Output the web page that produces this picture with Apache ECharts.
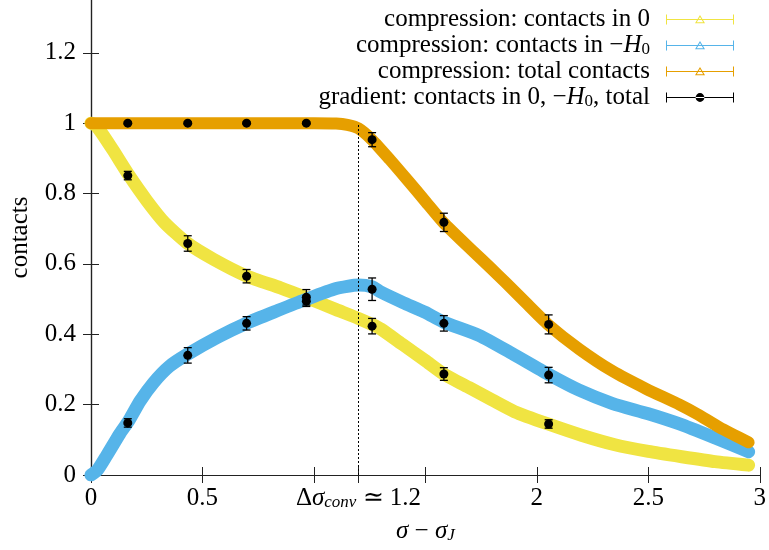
<!DOCTYPE html>
<html><head><meta charset="utf-8">
<script src="https://cdn.jsdelivr.net/npm/echarts@6/dist/echarts.min.js"></script>
<style>html,body{margin:0;padding:0;background:#fff}#c{width:769px;height:550px}</style>
</head><body><div id="c"></div>
<script>
// ---- compression: contacts in 0 (yellow)
const zeroX = [0, 0.02, 0.05, 0.1, 0.17, 0.25, 0.33, 0.43, 0.55, 0.7, 0.85, 0.97, 1.1, 1.2, 1.26, 1.3, 1.4, 1.5, 1.58, 1.7, 1.8, 1.9, 2.05, 2.2, 2.35, 2.5, 2.65, 2.8, 2.95];
const zeroY = [1.0, 0.995, 0.97, 0.922, 0.852, 0.78, 0.717, 0.66, 0.613, 0.565, 0.532, 0.503, 0.47, 0.445, 0.428, 0.415, 0.37, 0.325, 0.288, 0.247, 0.213, 0.18, 0.145, 0.113, 0.086, 0.067, 0.052, 0.038, 0.028];
// ---- compression: contacts in -H0 (blue)
const hX = [0, 0.03, 0.07, 0.13, 0.17, 0.22, 0.28, 0.35, 0.43, 0.57, 0.7, 0.84, 0.96, 1.1, 1.2, 1.26, 1.3, 1.4, 1.5, 1.58, 1.74, 1.89, 2.05, 2.19, 2.34, 2.5, 2.64, 2.8, 2.95];
const hY = [0, 0.015, 0.055, 0.118, 0.155, 0.21, 0.262, 0.308, 0.342, 0.392, 0.432, 0.468, 0.498, 0.53, 0.54, 0.535, 0.52, 0.49, 0.462, 0.435, 0.397, 0.345, 0.287, 0.241, 0.203, 0.174, 0.145, 0.105, 0.066];
// ---- compression: total contacts (orange)
const totX = [0, 1.0, 1.1, 1.15, 1.2, 1.26, 1.34, 1.42, 1.5, 1.58, 1.71, 1.79, 1.86, 1.95, 2.05, 2.19, 2.34, 2.49, 2.64, 2.72, 2.82, 2.95];
const totY = [1.0, 1.0, 0.999, 0.995, 0.985, 0.953, 0.897, 0.838, 0.778, 0.718, 0.638, 0.59, 0.547, 0.49, 0.428, 0.358, 0.295, 0.245, 0.2, 0.173, 0.135, 0.093];
// ---- gradient points (black)
const gradX = [0.165, 0.434, 0.698, 0.966, 1.261, 1.583, 2.053];
const grad0 = [0.851, 0.658, 0.565, 0.494, 0.423, 0.287, 0.145];
const grad0Err = [0.012, 0.022, 0.019, 0.015, 0.022, 0.018, 0.012];
const gradH = [0.148, 0.34, 0.431, 0.505, 0.528, 0.431, 0.284];
const gradHErr = [0.012, 0.022, 0.019, 0.022, 0.032, 0.022, 0.022];
const gradT = [1.0, 1.0, 1.0, 1.0, 0.953, 0.718, 0.428];
const gradTErr = [0.003, 0.003, 0.003, 0.003, 0.02, 0.026, 0.027];
// ---- axis ticks
const xTicks = [0, 0.5, 1, 1.2, 1.5, 2, 2.5, 3];
const xLabels = [0, 0.5, 1.2, 2, 2.5, 3];
const yTicks = [0, 0.2, 0.4, 0.6, 0.8, 1, 1.2];
const convX = 1.2;

const FONT = 'Liberation Serif';
const FS = 25;
const zip = (a, b) => a.map((v, i) => [v, b[i]]);
const gradData = [];
gradX.forEach((x, i) => {
  gradData.push([x, grad0[i], grad0Err[i]]);
  gradData.push([x, gradH[i], gradHErr[i]]);
  gradData.push([x, gradT[i], gradTErr[i]]);
});

const rich = {
  t: {fontFamily: FONT, fontSize: FS, lineHeight: 25, color: '#000'},
  i: {fontFamily: FONT, fontSize: FS, lineHeight: 25, color: '#000', fontStyle: 'italic'},
  s: {fontFamily: FONT, fontSize: 17, lineHeight: 17, color: '#000', padding: [8, 0, 0, 0]},
  si: {fontFamily: FONT, fontSize: 17, lineHeight: 17, color: '#000', fontStyle: 'italic', padding: [8, 0, 0, 0]},
  gap: {width: 11, lineHeight: 25}
};

const triIcon = 'path://M0,0H1V10H0Z M67,0H68V10H67Z M0,4.5H68V5.5H0Z M34,0.6L39,8.8L29,8.8Z M34,2.6L30.8,7.8L37.2,7.8Z';
const dotIcon = 'path://M0,0H1V10H0Z M67,0H68V10H67Z M0,4.5H68V5.5H0Z M29.6,5A4.4,4.4,0,1,0,38.4,5A4.4,4.4,0,1,0,29.6,5Z';

const legendText = {
  c0: '{t|compression: contacts in 0}{gap| }',
  cH: '{t|compression: contacts in −}{i|H}{s|0}{gap| }',
  ct: '{t|compression: total contacts}{gap| }',
  g: '{t|gradient: contacts in 0, −}{i|H}{s|0}{t|, total}{gap| }'
};

const axisCol = '#222';
const chart = echarts.init(document.getElementById('c'), null, {renderer: 'canvas'});
chart.setOption({
  animation: false,
  backgroundColor: '#fff',
  grid: {left: 91, right: 7, top: 0, bottom: 75},
  legend: {
    orient: 'vertical', align: 'right', right: 30, top: 2,
    itemWidth: 68, itemHeight: 10, itemGap: 1, selectedMode: false,
    itemStyle: {borderWidth: 0},
    data: [
      {name: 'c0', icon: triIcon},
      {name: 'cH', icon: triIcon},
      {name: 'ct', icon: triIcon},
      {name: 'g', icon: dotIcon}
    ],
    formatter: n => legendText[n],
    textStyle: {fontFamily: FONT, fontSize: FS, color: '#000', rich: rich}
  },
  xAxis: [{
    type: 'value', min: 0, max: 3, position: 'bottom',
    axisLine: {lineStyle: {color: axisCol, width: 1.2}},
    axisTick: {inside: true, length: 8, customValues: xTicks, lineStyle: {color: axisCol, width: 1}},
    axisLabel: {
      customValues: xLabels, margin: 11,
      formatter: v => Math.abs(v - convX) < 1e-9 ? '{t|Δ}{i|σ}{si|conv}{t| ≃ 1.2}' : '{t|' + v + '}',
      rich: rich
    },
    splitLine: {show: false},
    name: '{i|σ}{t| − }{i|σ}{si|J}', nameLocation: 'middle', nameGap: 44,
    nameTextStyle: {rich: rich}
  }, {
    type: 'value', min: 0, max: 3, position: 'top',
    axisLine: {lineStyle: {color: axisCol, width: 1.2}},
    axisTick: {inside: true, length: 8, customValues: xTicks, lineStyle: {color: axisCol, width: 1}},
    axisLabel: {show: false}, splitLine: {show: false}
  }],
  yAxis: [{
    type: 'value', min: 0, max: 1.35, position: 'left',
    axisLine: {show: true, lineStyle: {color: axisCol, width: 1.2}},
    axisTick: {show: true, inside: true, length: 8, customValues: yTicks, lineStyle: {color: axisCol, width: 1}},
    axisLabel: {customValues: yTicks, margin: 15, formatter: v => '{t|' + v + '}', rich: rich},
    splitLine: {show: false},
    name: '{t|contacts}', nameLocation: 'middle', nameGap: 58, nameRotate: 90,
    nameTextStyle: {rich: rich}
  }, {
    type: 'value', min: 0, max: 1.35, position: 'right',
    axisLine: {show: true, lineStyle: {color: axisCol, width: 1.2}},
    axisTick: {show: true, inside: true, length: 8, customValues: yTicks, lineStyle: {color: axisCol, width: 1}},
    axisLabel: {show: false}, splitLine: {show: false}
  }],
  series: [
    {
      name: 'c0', type: 'line', data: zip(zeroX, zeroY), showSymbol: false, smooth: 0.2,
      color: '#f0e442', lineStyle: {width: 13, color: '#f0e442', cap: 'round', join: 'round'}, z: 2,
      markLine: {
        silent: true, symbol: 'none', label: {show: false},
        lineStyle: {color: '#000', width: 1, type: [2, 2]},
        data: [[{coord: [convX, 0]}, {coord: [convX, 1]}]]
      }
    },
    {
      name: 'cH', type: 'line', data: zip(hX, hY), showSymbol: false, smooth: 0.2,
      color: '#56b4e9', lineStyle: {width: 13, color: '#56b4e9', cap: 'round', join: 'round'}, z: 3
    },
    {
      name: 'ct', type: 'line', data: zip(totX, totY), showSymbol: false, smooth: 0.2,
      color: '#e69f00', lineStyle: {width: 12, color: '#e69f00', cap: 'round', join: 'round'}, z: 4
    },
    {
      name: 'g', type: 'custom', z: 10, itemStyle: {color: '#000'},
      data: gradData,
      encode: {x: 0, y: 1},
      renderItem: (params, api) => {
        const x = api.value(0), y = api.value(1), e = api.value(2);
        const p = api.coord([x, y]);
        const top = api.coord([x, y + e]);
        const bot = api.coord([x, y - e]);
        const cw = 4;
        const st = {stroke: '#000', lineWidth: 1.3};
        return {
          type: 'group', children: [
            {type: 'line', shape: {x1: p[0], y1: top[1], x2: p[0], y2: bot[1]}, style: st},
            {type: 'line', shape: {x1: p[0] - cw, y1: top[1], x2: p[0] + cw, y2: top[1]}, style: st},
            {type: 'line', shape: {x1: p[0] - cw, y1: bot[1], x2: p[0] + cw, y2: bot[1]}, style: st},
            {type: 'circle', shape: {cx: p[0], cy: p[1], r: 4.5}, style: {fill: '#000'}}
          ]
        };
      }
    }
  ]
});
</script></body></html>
